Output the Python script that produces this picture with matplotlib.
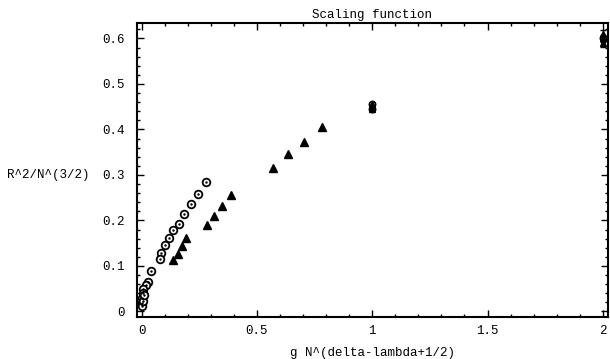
import matplotlib
matplotlib.use("Agg")
import matplotlib.pyplot as plt
import numpy as np
from matplotlib.ticker import MultipleLocator

# open circles (with centre dot)
circleX = [0.280, 0.245, 0.215, 0.184, 0.163, 0.137, 0.119, 0.102, 0.085, 0.080,
           0.041, 0.028, 0.020, 0.007, 0.007, 0.002, 0.000, 0.001, 0.004, 0.010]
circleY = [0.285, 0.258, 0.236, 0.214, 0.192, 0.179, 0.162, 0.146, 0.129, 0.115,
           0.089, 0.065, 0.058, 0.049, 0.041, 0.030, 0.019, 0.012, 0.024, 0.036]

# filled triangles
triX = [0.137, 0.158, 0.176, 0.193, 0.284, 0.314, 0.349, 0.388,
        0.570, 0.635, 0.704, 0.782]
triY = [0.113, 0.126, 0.144, 0.162, 0.190, 0.210, 0.232, 0.256,
        0.315, 0.346, 0.372, 0.405]

# stacked points at g N^... = 1 and 2
stackX = [1.0, 1.0, 1.0, 2.0, 2.0, 2.0]
stackY = [0.444, 0.450, 0.455, 0.590, 0.600, 0.610]
stackErr = [0.004, 0.004, 0.004, 0.008, 0.008, 0.008]

plt.rcParams['font.family'] = ['Liberation Mono', 'DejaVu Sans Mono']
plt.rcParams['font.size'] = 9

fig = plt.figure(figsize=(6.1, 3.59), dpi=100)
ax = fig.add_axes([0.2246, 0.1178, 0.772, 0.817])

ax.plot(circleX, circleY, "o", ms=5.5, mfc="white", mec="black", mew=1.3)
ax.plot(circleX, circleY, ".", ms=1.5, color="black")
ax.plot(triX, triY, "^", ms=5.5, color="black")

ax.errorbar(stackX, stackY, yerr=stackErr, fmt="^", ms=5, color="black",
            capsize=2, elinewidth=1)
ax.plot(stackX[::2], stackY[::2], "o", ms=4.5, mfc="white", mec="black", mew=1.2)

ax.set_xlim(-0.02, 2.022)
ax.set_ylim(-0.0115, 0.633)

ax.xaxis.set_major_locator(MultipleLocator(0.5))
ax.xaxis.set_minor_locator(MultipleLocator(0.1))
ax.yaxis.set_major_locator(MultipleLocator(0.1))
ax.yaxis.set_minor_locator(MultipleLocator(0.02))
ax.set_xticks([0, 0.5, 1, 1.5, 2])
ax.set_xticklabels(["0", "0.5", "1", "1.5", "2"])
ax.set_yticks([0, 0.1, 0.2, 0.3, 0.4, 0.5, 0.6])
ax.set_yticklabels(["0", "0.1", "0.2", "0.3", "0.4", "0.5", "0.6"])

ax.tick_params(which="both", direction="in", top=True, right=True, width=1)
ax.tick_params(which="major", length=5)
ax.tick_params(which="minor", length=2.5)
ax.tick_params(axis="y", pad=9)
ax.tick_params(axis="x", pad=6)
for s in ax.spines.values():
    s.set_linewidth(1.5)

ax.set_title("Scaling function", fontsize=9, pad=4)
ax.set_xlabel("g N^(delta-lambda+1/2)", fontsize=9, labelpad=7)
fig.text(0.011, 1 - 175 / 359, "R^2/N^(3/2)", ha="left", va="center", fontsize=9)

plt.savefig("out.png", dpi=100)
